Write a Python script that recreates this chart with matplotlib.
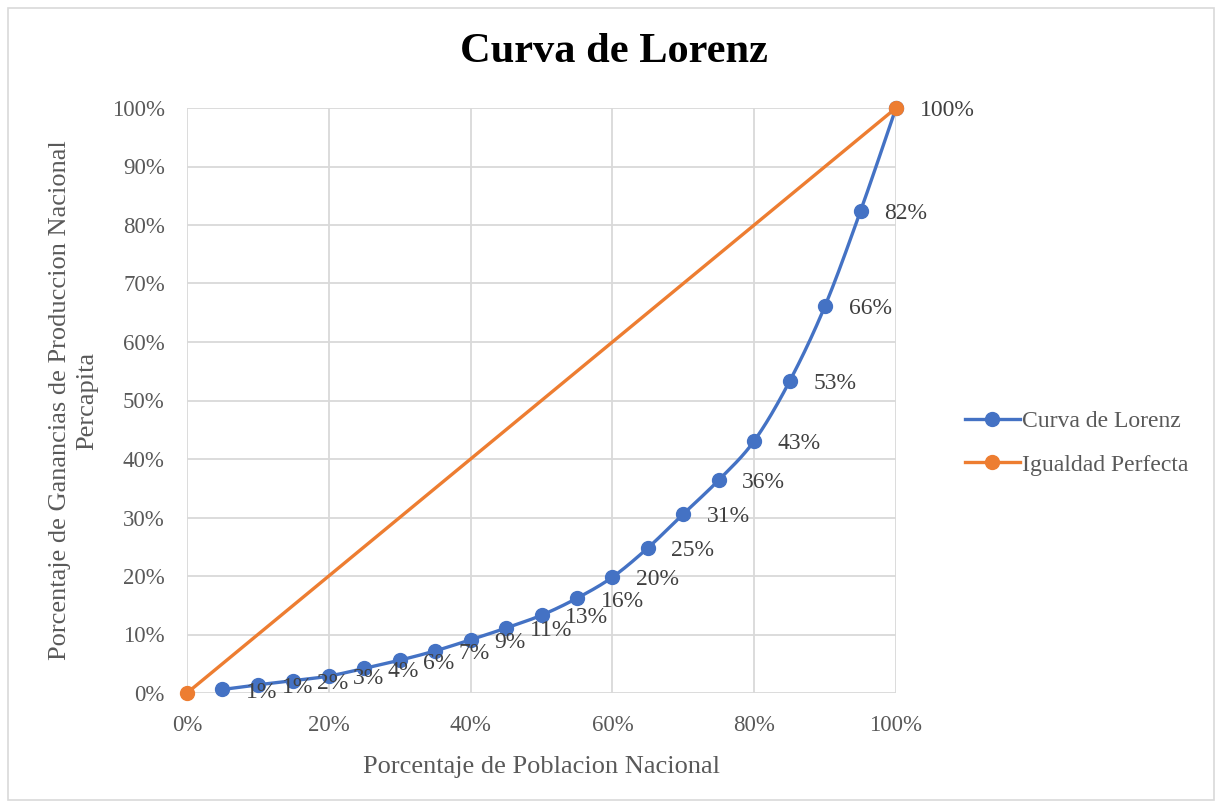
import numpy as np
import matplotlib
matplotlib.use("Agg")
import matplotlib.pyplot as plt
from matplotlib.ticker import PercentFormatter, MultipleLocator
from matplotlib.patches import Rectangle

# Data
poblacion = [5, 10, 15, 20, 25, 30, 35, 40, 45, 50, 55, 60, 65, 70, 75, 80, 85, 90, 95, 100]
lorenz = [0.6, 1.4, 2.1, 2.9, 4.2, 5.6, 7.2, 9.1, 11.1, 13.3, 16.2, 19.8, 24.8, 30.6, 36.4, 43.1, 53.3, 66.2, 82.4, 100.0]
igualdad_x = [0, 100]
igualdad_y = [0, 100]

title = "Curva de Lorenz"
xlabel = "Porcentaje de Poblacion Nacional"
ylabel = "Porcentaje de Ganancias de Produccion Nacional\nPercapita"

BLUE = "#4472C4"
ORANGE = "#ED7D31"
GRAY = "#595959"
GRID = "#D9D9D9"

plt.rcParams['font.family'] = ['Liberation Serif', 'DejaVu Serif']


def smooth(xs, ys, n=30):
    xs = np.asarray(xs, float)
    ys = np.asarray(ys, float)
    P = np.column_stack([xs, ys])
    m = len(P)
    out = []
    for i in range(m - 1):
        p0 = P[i - 1] if i > 0 else P[i]
        p1 = P[i]
        p2 = P[i + 1]
        p3 = P[i + 2] if i + 2 < m else P[i + 1]
        c1 = p1 + (p2 - p0) / 6.0
        c2 = p2 - (p3 - p1) / 6.0
        t = np.linspace(0, 1, n)[:, None]
        seg = ((1 - t) ** 3) * p1 + 3 * ((1 - t) ** 2) * t * c1 + 3 * (1 - t) * t ** 2 * c2 + t ** 3 * p2
        out.append(seg if i == 0 else seg[1:])
    s = np.vstack(out)
    return s[:, 0], s[:, 1]


fig = plt.figure(figsize=(12.15, 8.02), dpi=100)
ax = fig.add_axes([187 / 1215, 1 - 693 / 802, (896 - 187) / 1215, (693 - 108) / 802])

sx, sy = smooth(poblacion, lorenz)
ax.plot(sx, sy, color=BLUE, lw=2.4, zorder=3, solid_capstyle='round', clip_on=False)
ax.plot(poblacion, lorenz, 'o', color=BLUE, ms=10, zorder=4, clip_on=False)
ax.plot(igualdad_x, igualdad_y, color=ORANGE, lw=2.4, zorder=3, clip_on=False)
ax.plot(igualdad_x, igualdad_y, 'o', color=ORANGE, ms=10, zorder=5, clip_on=False)

# legend proxies
h1, = ax.plot([], [], '-o', color=BLUE, lw=2.4, ms=10, label="Curva de Lorenz")
h2, = ax.plot([], [], '-o', color=ORANGE, lw=2.4, ms=10, label="Igualdad Perfecta")

for x, y in zip(poblacion, lorenz):
    ax.annotate(f"{y:.0f}%", (x, y), xytext=(17, -2), textcoords='offset points',
                ha='left', va='center', fontsize=17, color="#404040", zorder=6,
                annotation_clip=False)

ax.set_xlim(0, 100)
ax.set_ylim(0, 100)
ax.xaxis.set_major_locator(MultipleLocator(20))
ax.yaxis.set_major_locator(MultipleLocator(10))
ax.xaxis.set_major_formatter(PercentFormatter(decimals=0))
ax.yaxis.set_major_formatter(PercentFormatter(decimals=0))
ax.grid(True, color=GRID, lw=1.3)
ax.set_axisbelow(True)
for sp in ax.spines.values():
    sp.set_visible(False)
ax.tick_params(length=0, labelsize=16.5, labelcolor=GRAY)
ax.tick_params(axis='x', pad=16)
ax.tick_params(axis='y', pad=16)

ax.set_xlabel(xlabel, fontsize=19, color=GRAY, labelpad=14)
ax.set_ylabel(ylabel, fontsize=19, color=GRAY, labelpad=10, linespacing=1.3)

fig.text(614 / 1215, 1 - 52 / 802, title, ha='center', va='center', fontsize=30.5,
         fontweight='bold', color='black')

fig.legend(handles=[h1, h2], loc='center left', bbox_to_anchor=(944 / 1215, 1 - 443 / 802),
           frameon=False, fontsize=17, labelcolor=GRAY, handlelength=2.3,
           handletextpad=0.1, labelspacing=0.95)

fig.patches.append(Rectangle((8 / 1215, 0.002), 1 - 9 / 1215, 1 - 8 / 802 - 0.002,
                             transform=fig.transFigure, fill=False, ec=GRID, lw=1.2))

fig.savefig("out.png", dpi=100, facecolor='white')
